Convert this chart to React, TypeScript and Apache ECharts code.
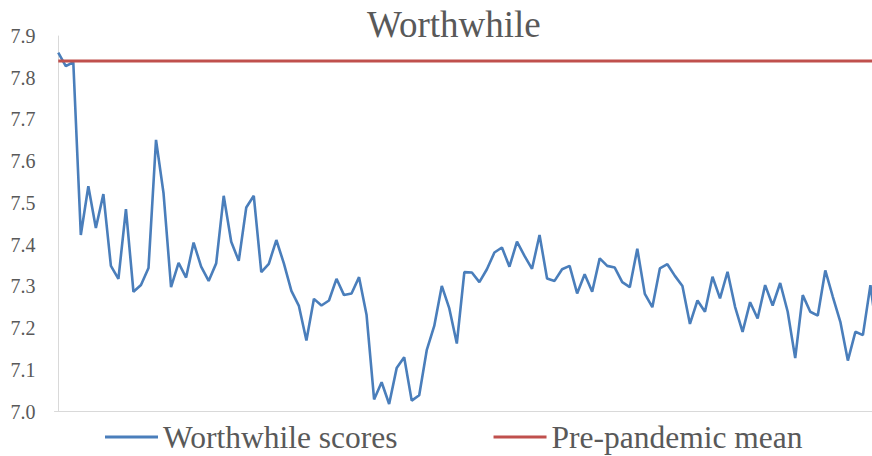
import React, { useEffect, useRef } from "react";
import * as echarts from "echarts";

const TITLE = "Worthwhile";
const SERIES_NAMES = ["Worthwhile scores", "Pre-pandemic mean"];
const Y_TICKS = [7.0, 7.1, 7.2, 7.3, 7.4, 7.5, 7.6, 7.7, 7.8, 7.9];
const PRE_PANDEMIC_MEAN = 7.84;

const worthwhileScores = [
  7.86, 7.828, 7.837, 7.423, 7.54, 7.44, 7.521, 7.349, 7.318, 7.485,
  7.287, 7.303, 7.344, 7.651, 7.523, 7.298, 7.356, 7.321, 7.405, 7.347,
  7.313, 7.355, 7.517, 7.407, 7.361, 7.489, 7.517, 7.334, 7.354, 7.411,
  7.355, 7.289, 7.253, 7.17, 7.27, 7.254, 7.266, 7.318, 7.279, 7.283,
  7.322, 7.231, 7.029, 7.07, 7.018, 7.104, 7.13, 7.026, 7.039, 7.147,
  7.205, 7.301, 7.247, 7.163, 7.334, 7.333, 7.31, 7.341, 7.381, 7.393,
  7.347, 7.407, 7.373, 7.342, 7.423, 7.319, 7.313, 7.341, 7.349, 7.283,
  7.329, 7.287, 7.367, 7.349, 7.345, 7.31, 7.298, 7.39, 7.282, 7.25,
  7.343, 7.353, 7.325, 7.301, 7.21, 7.266, 7.239, 7.323, 7.271, 7.335,
  7.251, 7.191, 7.262, 7.223, 7.303, 7.254, 7.308, 7.239, 7.128, 7.279,
  7.239, 7.23, 7.338, 7.275, 7.215, 7.122, 7.191, 7.183, 7.303, 7.17,
];

const FONT = "'Liberation Serif', 'Times New Roman', serif";

export default function App() {
  const ref = useRef<HTMLDivElement>(null);

  useEffect(() => {
    if (!ref.current) return;
    const chart = echarts.init(ref.current, undefined, { renderer: "svg" });
    const lastIndex = worthwhileScores.length - 1;
    chart.setOption({
      animation: false,
      backgroundColor: "#ffffff",
      title: {
        text: TITLE,
        left: 367,
        top: 6,
        padding: 0,
        textStyle: {
          fontFamily: FONT,
          fontSize: 37,
          fontWeight: "normal",
          color: "#595959",
        },
      },
      legend: {
        left: 105,
        top: 421,
        padding: 0,
        itemGap: 96,
        itemWidth: 53,
        itemHeight: 3,
        icon: "rect",
        textStyle: {
          fontFamily: FONT,
          fontSize: 31.5,
          lineHeight: 32,
          color: "#595959",
          padding: [0, 0, 0, 0],
        },
        data: SERIES_NAMES,
      },
      grid: {
        left: 54.5,
        right: 0,
        top: 36,
        bottom: 44.5,
        containLabel: false,
      },
      xAxis: {
        type: "value",
        min: -0.5,
        max: -0.5 + (872 - 54.5) / 7.52,
        axisLine: { show: true, onZero: false, lineStyle: { color: "#D9D9D9", width: 1 } },
        axisTick: { show: false },
        axisLabel: { show: false },
        splitLine: { show: false },
      },
      yAxis: {
        type: "value",
        min: Y_TICKS[0],
        max: Y_TICKS[Y_TICKS.length - 1],
        interval: 0.1,
        axisLine: { show: true, lineStyle: { color: "#D9D9D9", width: 1 } },
        axisTick: { show: false },
        splitLine: { show: false },
        axisLabel: {
          margin: 19,
          fontFamily: FONT,
          fontSize: 20,
          color: "#595959",
          formatter: (v: number) => v.toFixed(1),
        },
      },
      series: [
        {
          name: SERIES_NAMES[0],
          type: "line",
          symbol: "none",
          data: worthwhileScores.map((v, i) => [i, v]),
          lineStyle: { color: "#4A7EBB", width: 2.6 },
          itemStyle: { color: "#4A7EBB" },
          clip: true,
          z: 2,
        },
        {
          name: SERIES_NAMES[1],
          type: "line",
          symbol: "none",
          data: [
            [0, PRE_PANDEMIC_MEAN],
            [lastIndex, PRE_PANDEMIC_MEAN],
          ],
          lineStyle: { color: "#C0504D", width: 3 },
          itemStyle: { color: "#C0504D" },
          clip: true,
          z: 3,
        },
      ],
    });
    return () => chart.dispose();
  }, []);

  return (
    <div
      ref={ref}
      style={{ position: "fixed", left: 0, top: 0, width: 872, height: 456 }}
    />
  );
}
